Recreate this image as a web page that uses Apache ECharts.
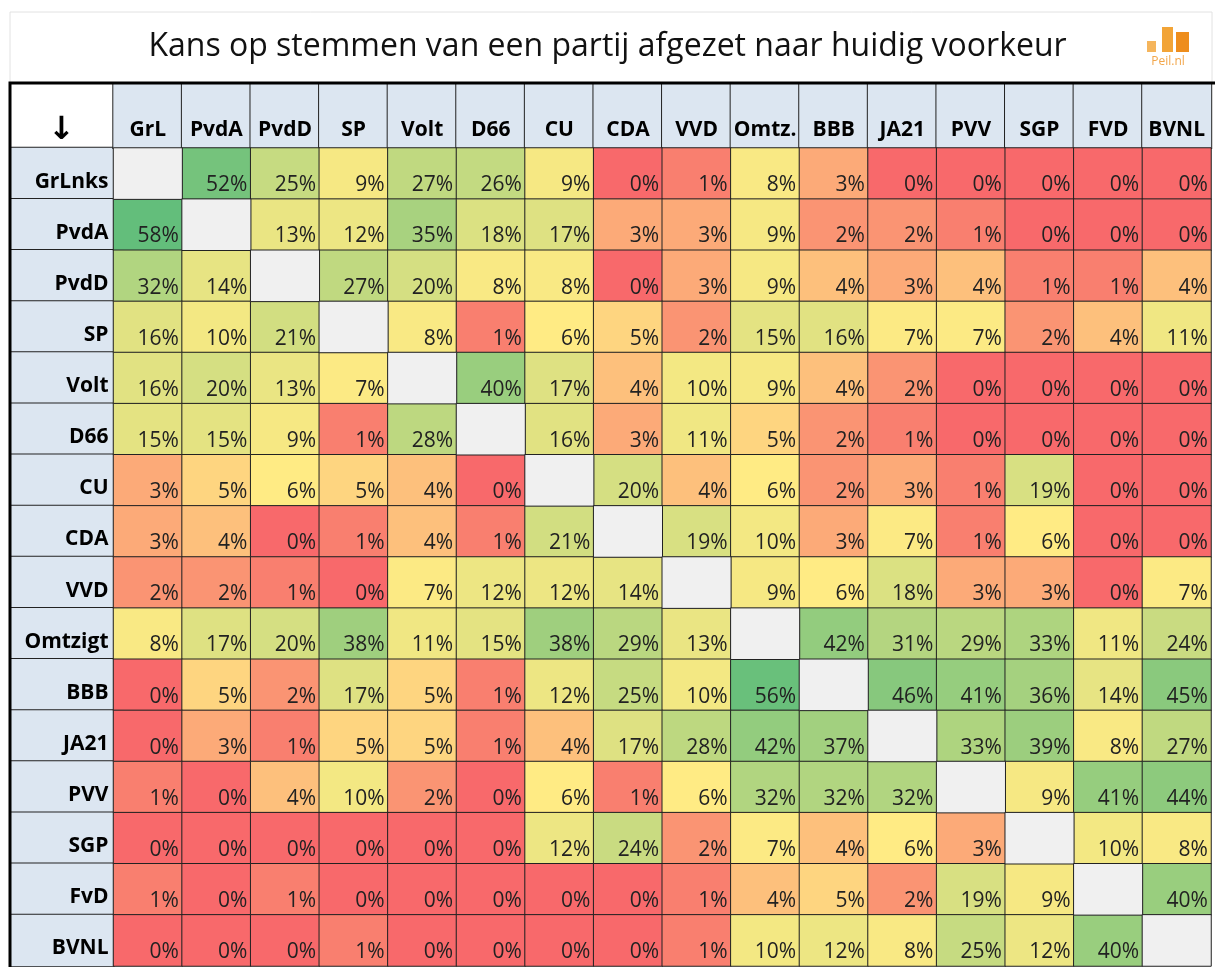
<!DOCTYPE html>
<html>
<head>
<meta charset="utf-8">
<title>Kans op stemmen van een partij</title>
<script src="https://cdn.jsdelivr.net/npm/echarts@6/dist/echarts.min.js"></script>
<style>
  html, body { margin: 0; padding: 0; background: #fff; }
  #chart { width: 1215px; height: 967px; }
</style>
</head>
<body>
<div id="chart"></div>
<script>
// kolommen: partij waarop men (ook) zou kunnen stemmen
const kolommen = ['GrL', 'PvdA', 'PvdD', 'SP', 'Volt', 'D66', 'CU', 'CDA', 'VVD', 'Omtz.', 'BBB', 'JA21', 'PVV', 'SGP', 'FVD', 'BVNL'];
// rijen: huidige voorkeur
const rijen = ['GrLnks', 'PvdA', 'PvdD', 'SP', 'Volt', 'D66', 'CU', 'CDA', 'VVD', 'Omtzigt', 'BBB', 'JA21', 'PVV', 'SGP', 'FvD', 'BVNL'];

// kans in %, null = eigen partij
const grlnks  = [null, 52, 25,  9, 27, 26,  9,  0,  1,  8,  3,  0,  0,  0,  0,  0];
const pvda    = [58, null, 13, 12, 35, 18, 17,  3,  3,  9,  2,  2,  1,  0,  0,  0];
const pvdd    = [32, 14, null, 27, 20,  8,  8,  0,  3,  9,  4,  3,  4,  1,  1,  4];
const sp      = [16, 10, 21, null,  8,  1,  6,  5,  2, 15, 16,  7,  7,  2,  4, 11];
const volt    = [16, 20, 13,  7, null, 40, 17,  4, 10,  9,  4,  2,  0,  0,  0,  0];
const d66     = [15, 15,  9,  1, 28, null, 16,  3, 11,  5,  2,  1,  0,  0,  0,  0];
const cu      = [ 3,  5,  6,  5,  4,  0, null, 20,  4,  6,  2,  3,  1, 19,  0,  0];
const cda     = [ 3,  4,  0,  1,  4,  1, 21, null, 19, 10,  3,  7,  1,  6,  0,  0];
const vvd     = [ 2,  2,  1,  0,  7, 12, 12, 14, null,  9,  6, 18,  3,  3,  0,  7];
const omtzigt = [ 8, 17, 20, 38, 11, 15, 38, 29, 13, null, 42, 31, 29, 33, 11, 24];
const bbb     = [ 0,  5,  2, 17,  5,  1, 12, 25, 10, 56, null, 46, 41, 36, 14, 45];
const ja21    = [ 0,  3,  1,  5,  5,  1,  4, 17, 28, 42, 37, null, 33, 39,  8, 27];
const pvv     = [ 1,  0,  4, 10,  2,  0,  6,  1,  6, 32, 32, 32, null,  9, 41, 44];
const sgp     = [ 0,  0,  0,  0,  0,  0, 12, 24,  2,  7,  4,  6,  3, null, 10,  8];
const fvd     = [ 1,  0,  1,  0,  0,  0,  0,  0,  1,  4,  5,  2, 19,  9, null, 40];
const bvnl    = [ 0,  0,  0,  1,  0,  0,  0,  0,  1, 10, 12,  8, 25, 12, 40, null];

const matrix = [grlnks, pvda, pvdd, sp, volt, d66, cu, cda, vvd, omtzigt, bbb, ja21, pvv, sgp, fvd, bvnl];

// layout (zoals de tabel in Excel)
const LABEL_W = 103.5, HEAD_H = 65;
const CELL_W = 69, CELL_H = 51.625;
const GRID_LEFT = 10 + LABEL_W, GRID_TOP = 83 + HEAD_H;
const FONT = '"Open Sans", sans-serif';

const cellen = [], diagonaal = [];
matrix.forEach((rij, y) => rij.forEach((v, x) => {
  if (v === null) diagonaal.push([x, y, 0]);
  else cellen.push([x, y, v]);
}));
const maxWaarde = Math.max(...cellen.map(c => c[2]));

// 3-kleurenschaal rood - geel - groen, geel rond 6%
const ROOD = [248, 105, 107], GEEL = [255, 235, 132], GROEN = [99, 190, 123];
const MIDDEN = 6;
function kleur(v) {
  const [a, b, t] = v <= MIDDEN ? [ROOD, GEEL, v / MIDDEN] : [GEEL, GROEN, (v - MIDDEN) / (maxWaarde - MIDDEN)];
  return 'rgb(' + a.map((c, i) => Math.round(c + (b[i] - c) * t)).join(',') + ')';
}
const stops = [];
for (let v = 0; v <= maxWaarde + 1e-9; v += 0.5) stops.push(kleur(v));

const chart = echarts.init(document.getElementById('chart'));
chart.setOption({
  animation: false,
  title: {
    text: 'Kans op stemmen van een partij afgezet naar huidig voorkeur',
    left: 'center',
    top: 31,
    padding: 0,
    textStyle: { fontFamily: FONT, fontSize: 32, fontWeight: 'normal', color: '#111' }
  },
  grid: { left: GRID_LEFT, top: GRID_TOP, width: CELL_W * 16, height: CELL_H * 16 },
  xAxis: {
    type: 'category',
    position: 'top',
    data: kolommen,
    axisLine: { show: false },
    axisTick: { show: false },
    splitLine: { show: false },
    axisLabel: {
      interval: 0,
      margin: 0,
      width: CELL_W,
      lineHeight: 24,
      padding: [35, 0, 6, 0],
      align: 'center',
      backgroundColor: '#DCE6F1',
      borderColor: '#222',
      borderWidth: 1,
      fontFamily: FONT,
      fontSize: 21,
      fontWeight: 'bold',
      color: '#000'
    }
  },
  yAxis: {
    type: 'category',
    inverse: true,
    data: rijen,
    axisLine: { show: false },
    axisTick: { show: false },
    splitLine: { show: false },
    axisLabel: {
      interval: 0,
      margin: 0,
      width: LABEL_W - 5,
      // lege eerste regel: tekst onderin de cel, zoals in Excel
      formatter: v => '\n' + v,
      lineHeight: 16,
      padding: [(CELL_H - 32) / 2, 5, (CELL_H - 32) / 2, 0],
      align: 'right',
      backgroundColor: '#DCE6F1',
      borderColor: '#222',
      borderWidth: 1,
      fontFamily: FONT,
      fontSize: 21,
      fontWeight: 'bold',
      color: '#000'
    }
  },
  visualMap: {
    show: false,
    seriesIndex: 0,
    dimension: 2,
    min: 0,
    max: maxWaarde,
    inRange: { color: stops }
  },
  series: [
    {
      type: 'heatmap',
      data: cellen,
      itemStyle: { borderColor: '#222', borderWidth: 1 },
      label: {
        show: true,
        position: 'insideBottomRight',
        distance: 4,
        formatter: p => p.value[2] + '%',
        fontFamily: FONT,
        fontSize: 21,
        color: '#222'
      },
      emphasis: { disabled: true }
    },
    {
      type: 'heatmap',
      data: diagonaal,
      itemStyle: { color: '#F0F0F0', borderColor: '#222', borderWidth: 1 },
      emphasis: { disabled: true }
    }
  ],
  graphic: [
    {
      type: 'rect',
      shape: { x: 10, y: 12, width: 1202, height: 71 },
      style: { fill: 'none', stroke: '#E2E2E2', lineWidth: 1 }
    },
    {
      type: 'rect',
      shape: { x: 10, y: 83, width: LABEL_W + CELL_W * 16, height: HEAD_H + CELL_H * 16 },
      style: { fill: 'none', stroke: '#000', lineWidth: 3 },
      z: 10
    },
    {
      type: 'text',
      x: 10 + LABEL_W / 2, y: 131,
      style: { text: '↓', font: 'bold 32px "DejaVu Sans"', fill: '#000', align: 'center', verticalAlign: 'middle' }
    },
    // logo Peil.nl
    { type: 'rect', shape: { x: 1147, y: 41, width: 9, height: 11 }, style: { fill: '#F5B55C' } },
    { type: 'rect', shape: { x: 1162, y: 27, width: 11, height: 25 }, style: { fill: '#F2A437' } },
    { type: 'rect', shape: { x: 1176, y: 32, width: 13, height: 20 }, style: { fill: '#EE8D1C' } },
    {
      type: 'text', x: 1168, y: 62,
      style: { text: 'Peil.nl', font: '12px "Open Sans"', fill: '#F2A64A', align: 'center', verticalAlign: 'middle' }
    }
  ]
});
</script>
</body>
</html>
